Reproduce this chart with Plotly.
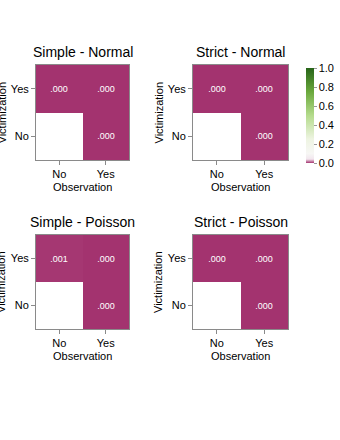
import plotly.graph_objects as go

# categories
obs_cats = ["No", "Yes"]
vic_cats = ["No", "Yes"]

panel_titles = ["Simple - Normal", "Strict - Normal", "Simple - Poisson", "Strict - Poisson"]

# rows: Victimization No, Yes ; cols: Observation No, Yes
simple_normal = [[None, 0.000], [0.000, 0.000]]
strict_normal = [[None, 0.000], [0.000, 0.000]]
simple_poisson = [[None, 0.000], [0.001, 0.000]]
strict_poisson = [[None, 0.000], [0.000, 0.000]]
panels = [simple_normal, strict_normal, simple_poisson, strict_poisson]

W, H = 340, 440
# plot boxes in pixels (left, right, top, bottom)
boxes = [(36, 129, 65, 160), (193, 288, 65, 160), (36, 129, 235, 329), (193, 288, 235, 329)]

colorscale = [
    [0.0, "#a3336f"],
    [0.04, "#f2e6ee"],
    [0.1, "#f7f7f5"],
    [0.25, "#eef4e2"],
    [0.5, "#b4db8c"],
    [0.75, "#6aa83c"],
    [1.0, "#276419"],
]


def fmt(v):
    if v is None:
        return ""
    return f"{v:.3f}".lstrip("0")


fig = go.Figure()
font = "Liberation Sans, Arial, sans-serif"

for i, (z, title, (l, r, t, b)) in enumerate(zip(panels, panel_titles, boxes)):
    n = "" if i == 0 else str(i + 1)
    text = [[fmt(v) for v in row] for row in z]
    fig.add_trace(go.Heatmap(
        z=z, x=obs_cats, y=vic_cats, text=text, texttemplate="%{text}",
        textfont=dict(color="white", size=9, family=font),
        colorscale=colorscale, zmin=0, zmax=1,
        xaxis="x" + n, yaxis="y" + n, hoverongaps=False,
        showscale=(i == 0),
        colorbar=dict(x=306 / W, xanchor="left", y=(H - 115.5) / H, yanchor="middle",
                      len=95 / H, lenmode="fraction", thickness=8, outlinewidth=0,
                      xpad=0, ypad=0,
                      ticks="outside", ticklen=3, tickcolor="#999", tickformat=".1f",
                      tickvals=[0, 0.2, 0.4, 0.6, 0.8, 1.0],
                      tickfont=dict(size=11, family=font, color="black")),
    ))
    axis_common = dict(showgrid=False, zeroline=False, showline=True, mirror=True,
                       linecolor="#8a8a8a", linewidth=1, ticks="outside", ticklen=4,
                       tickcolor="#8a8a8a", tickfont=dict(size=11, family=font, color="black"))
    fig.update_layout(**{
        "xaxis" + n: dict(domain=[l / W, r / W], anchor="y" + n, **axis_common),
        "yaxis" + n: dict(domain=[(H - b) / H, (H - t) / H], anchor="x" + n, **axis_common),
    })
    cx = (l + r) / 2 / W
    fig.add_annotation(text=title, x=cx, y=(H - (t - 13)) / H, xref="paper", yref="paper",
                       xanchor="center", yanchor="middle", showarrow=False,
                       font=dict(size=14, family=font, color="black"))
    fig.add_annotation(text="Observation", x=cx, y=(H - (b + 27)) / H, xref="paper", yref="paper",
                       xanchor="center", yanchor="middle", showarrow=False,
                       font=dict(size=11, family=font, color="black"))
    fig.add_annotation(text="Victimization", x=(l - 35) / W, y=(H - (t + b) / 2) / H,
                       xref="paper", yref="paper", xanchor="center", yanchor="middle",
                       textangle=-90, showarrow=False,
                       font=dict(size=11, family=font, color="black"))

fig.update_layout(width=W, height=H, margin=dict(l=0, r=0, t=0, b=0, autoexpand=False),
                  paper_bgcolor="white", plot_bgcolor="white", showlegend=False)
fig.write_html("out.html", config={"displayModeBar": False},
               post_script="document.body.style.margin='0';")
